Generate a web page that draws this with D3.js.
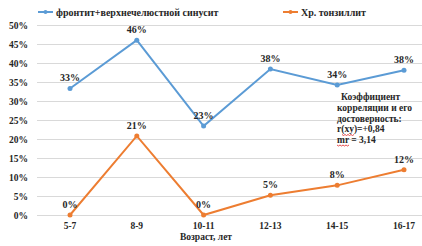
<!DOCTYPE html>
<html>
<head>
<meta charset="utf-8">
<script src="https://cdn.jsdelivr.net/npm/d3@7"></script>
<style>
  body { margin: 0; background: #fff; }
  svg text { font-family: "Liberation Serif", "Times New Roman", serif; font-weight: bold; fill: #262626; }
</style>
</head>
<body>
<div id="chart"></div>
<script>
// categories and values
let ages = ["5-7", "8-9", "10-11", "12-13", "14-15", "16-17"];
let sinusValues = [33.3, 46.0, 23.4, 38.4, 34.2, 38.1];
let sinusLabels = ["33%", "46%", "23%", "38%", "34%", "38%"];
let tonsilValues = [0, 20.8, 0, 5.2, 7.8, 11.9];
let tonsilLabels = ["0%", "21%", "0%", "5%", "8%", "12%"];
let yTicks = [0, 5, 10, 15, 20, 25, 30, 35, 40, 45, 50];
let seriesNames = ["фронтит+верхнечелюстной синусит", "Хр. тонзиллит"];
let noteLines = ["Коэффициент", "корреляции и его", "достоверность:", "r(xy)=+0,84", "mr = 3,14"];

let width = 422, height = 246;

let svg = d3.select("#chart").append("svg")
    .attr("width", width)
    .attr("height", height);

// scales
let x = d3.scalePoint()
    .domain(ages)
    .range([70, 404]);

let y = d3.scaleLinear()
    .domain([0, 50])
    .range([215, 25]);

// gridlines
svg.append("g")
    .selectAll("line")
    .data(yTicks)
    .enter().append("line")
    .attr("x1", 37)
    .attr("x2", width)
    .attr("y1", d => Math.round(y(d)) + 0.5)
    .attr("y2", d => Math.round(y(d)) + 0.5)
    .style("stroke", "#d9d9d9")
    .style("stroke-width", 1);

// y tick labels
svg.append("g")
    .selectAll("text")
    .data(yTicks)
    .enter().append("text")
    .attr("x", 28)
    .attr("y", d => y(d) + 3.5)
    .attr("text-anchor", "end")
    .style("font-size", "9.5px")
    .text(d => d + "%");

// x category labels
svg.append("g")
    .selectAll("text")
    .data(ages)
    .enter().append("text")
    .attr("x", d => x(d))
    .attr("y", 229)
    .attr("text-anchor", "middle")
    .style("font-size", "9.5px")
    .text(d => d);

// axis title
svg.append("text")
    .attr("x", 206)
    .attr("y", 240)
    .attr("text-anchor", "middle")
    .style("font-size", "9.5px")
    .text("Возраст, лет");

let line = d3.line()
    .x((d, i) => x(ages[i]))
    .y(d => y(d));

let series = [
    {name: seriesNames[0], values: sinusValues, labels: sinusLabels, color: "#5b9bd5"},
    {name: seriesNames[1], values: tonsilValues, labels: tonsilLabels, color: "#ed7d31"}
];

series.forEach(s => {
    svg.append("path")
        .attr("d", line(s.values))
        .style("fill", "none")
        .style("stroke", s.color)
        .style("stroke-width", 2);

    svg.append("g")
        .selectAll("circle")
        .data(s.values)
        .enter().append("circle")
        .attr("cx", (d, i) => x(ages[i]))
        .attr("cy", d => y(d))
        .attr("r", 2.5)
        .style("fill", s.color);

    svg.append("g")
        .selectAll("text")
        .data(s.values)
        .enter().append("text")
        .attr("x", (d, i) => x(ages[i]))
        .attr("y", d => y(d) - 7)
        .attr("text-anchor", "middle")
        .style("font-size", "10px")
        .text((d, i) => s.labels[i]);
});

// legend
let legendX = [38, 283];
series.forEach((s, i) => {
    let g = svg.append("g").attr("transform", "translate(" + legendX[i] + ",12)");
    g.append("line")
        .attr("x1", 0).attr("x2", 15)
        .style("stroke", s.color)
        .style("stroke-width", 2);
    g.append("circle")
        .attr("cx", 7.5).attr("r", 2)
        .style("fill", s.color);
    g.append("text")
        .attr("x", 18)
        .attr("y", 3.5)
        .style("font-size", "10px")
        .text(s.name);
});

// correlation note (regular Liberation Serif is missing, so all bold)
let note = svg.append("g");
note.selectAll("text")
    .data(noteLines)
    .enter().append("text")
    .attr("x", (d, i) => i === 0 ? 341 : 337)
    .attr("y", (d, i) => 100 + i * 10.8)
    .style("font-size", "9.5px")
    .text(d => d);

// red spell-check squiggles under "xy" and "mr"
function squiggle(x0, x1, yy) {
    let pts = [];
    for (let xx = x0, k = 0; xx <= x1; xx += 1.5, k++) pts.push([xx, yy + (k % 2 ? 1 : 0)]);
    return d3.line()(pts);
}
note.append("path").attr("d", squiggle(342, 355, 134.5))
    .style("fill", "none").style("stroke", "#e02020").style("stroke-width", 0.8);
note.append("path").attr("d", squiggle(337, 349, 145))
    .style("fill", "none").style("stroke", "#e02020").style("stroke-width", 0.8);
</script>
</body>
</html>
